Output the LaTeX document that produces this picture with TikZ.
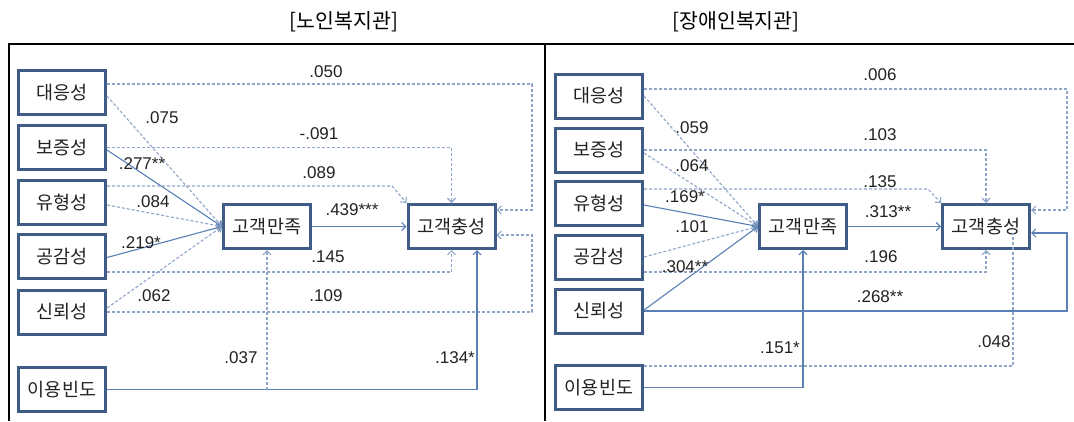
\documentclass[tikz,border=0pt]{standalone}
\usepackage{fontspec}
\setmainfont{Liberation Sans}
\newfontfamily\kr{Noto Sans CJK KR}
\usetikzlibrary{arrows.meta,calc}
\definecolor{boxc}{HTML}{3E5C86}
\definecolor{solidc}{HTML}{5A80B5}
\definecolor{dashc}{HTML}{8FA6C9}
\definecolor{txt}{HTML}{222222}
\begin{document}
\begin{tikzpicture}[x=1pt,y=-1pt,
 var/.style={draw=boxc, line width=3pt, fill=white, minimum width=87pt, minimum height=44pt, inner sep=0pt, font=\kr\fontsize{18.5}{18.5}\selectfont, text=txt},
 sol/.style={draw=solidc, line width=1.1pt, -{Straight Barb[length=4pt,width=8pt]}},
 das/.style={draw=dashc, line width=1.1pt, dash pattern=on 3pt off 2pt, -{Straight Barb[length=4pt,width=8pt]}},
 lbl/.style={font=\fontsize{17}{17}\selectfont, text=txt, inner sep=0pt},
 ttl/.style={font=\kr\fontsize{20.5}{20.5}\selectfont, text=black},
 frame/.style={draw=black, line width=1.3pt}
]
\useasboundingbox (0,0) rectangle (1074,421);
\fill[white] (0,0) rectangle (1074,421);

% titles and frame
\node[ttl] (t1) at (344,22) {[노인복지관]};
\node[ttl] (t2) at (736,22) {[장애인복지관]};
\draw[frame] (9,421) -- (9,44) -- (1074,44);
\draw[frame] (545,44) -- (545,421);

% ---------- left panel ----------
\node[var] (la) at (62,92.5) {대응성};
\node[var] (lb) at (62,147.5) {보증성};
\node[var] (lc) at (62,202) {유형성};
\node[var] (ld) at (62,256.5) {공감성};
\node[var] (le) at (62,312) {신뢰성};
\node[var] (lf) at (62,389.5) {이용빈도};
\node[var] (lm) at (267,226.5) {고객만족};
\node[var] (ll) at (451.5,226.5) {고객충성};

\draw[das] ([yshift=8.5]la.east) -- (532,84) -- (532,210) -- ([yshift=16.5]ll.east);
\draw[das] ([yshift=-3.5]la.east) -- (lm.west);
\draw[das] (lb.east) -| (ll.north);
\draw[sol] ([yshift=-2.5]lb.east) -- (lm.west);
\draw[das] ([yshift=16]lc.east) -- (392,186) -- (ll.north west);
\draw[das] ([yshift=-3]lc.east) -- (lm.west);
\draw[sol] ([yshift=-1]ld.east) -- (lm.west);
\draw[das] ([yshift=-15.5]ld.east) -| (ll.south);
\draw[das] ([yshift=4]le.east) -- (lm.west);
\draw[das] (le.east) -- (532,312) -- (532,235) -- ([yshift=-8.5]ll.east);
\draw[sol] (lf.east) -| ([xshift=25.5]ll.south);
\coordinate (lj) at (lm.south |- lf.east);
\draw[das] (lj) -- (lm.south);
\draw[sol] (lm) -- (ll);

\node[lbl] (l1) at (326,72) {.050};
\node[lbl] (l2) at (162,118) {.075};
\node[lbl] (l3) at (319,134) {-.091};
\node[lbl] (l4) at (142,164) {.277**};
\node[lbl] (l5) at (319,173) {.089};
\node[lbl] (l6) at (153,202) {.084};
\node[lbl] (l7) at (352,210) {.439***};
\node[lbl] (l8) at (141,243) {.219*};
\node[lbl] (l9) at (328,257) {.145};
\node[lbl] (l10) at (154,296) {.062};
\node[lbl] (l11) at (326,296) {.109};
\node[lbl] (l12) at (241,358) {.037};
\node[lbl] (l13) at (455,358) {.134*};

% ---------- right panel ----------
\node[var] (ra) at (599,96) {대응성};
\node[var] (rb) at (599,150) {보증성};
\node[var] (rc) at (599,203.5) {유형성};
\node[var] (rd) at (599,257) {공감성};
\node[var] (re) at (599,311) {신뢰성};
\node[var] (rf) at (599,387.5) {이용빈도};
\node[var] (rm) at (803,226.5) {고객만족};
\node[var] (rr) at (986,226.5) {고객충성};

\draw[das] ([yshift=7]ra.east) -- (1067,89) -- (1067,210) -- ([yshift=16.5]rr.east);
\draw[das] (ra.east) -- (rm.west);
\draw[das] (rb.east) -| (rr.north);
\draw[das] ([yshift=-3]rb.east) -- (rm.west);
\draw[das] ([yshift=14.5]rc.east) -- (928,189) -- (rr.north west);
\draw[sol] ([yshift=-1.5]rc.east) -- (rm.west);
\draw[das] (rd.east) -- (rm.west);
\draw[das] ([yshift=-15]rd.east) -| (rr.south);
\draw[sol] ([yshift=1]re.east) -- (rm.west);
\draw[sol] (re.east) -- (1067,311) -- (1067,233) -- ([yshift=-6.5]rr.east);
\draw[das,-] ([yshift=21.5]rf.east) -| ([xshift=27,yshift=-6.5]rr.center);
\draw[sol] (rf.east) -| (rm.south);
\draw[sol] (rm) -- (rr);

\node[lbl] (r1) at (880,75) {.006};
\node[lbl] (r2) at (692,128) {.059};
\node[lbl] (r3) at (880,135) {.103};
\node[lbl] (r4) at (692,166) {.064};
\node[lbl] (r5) at (880,182) {.135};
\node[lbl] (r6) at (685,197) {.169*};
\node[lbl] (r7) at (888,212) {.313**};
\node[lbl] (r8) at (692,227) {.101};
\node[lbl] (r9) at (685,267) {.304**};
\node[lbl] (r10) at (881,257) {.196};
\node[lbl] (r11) at (880,297) {.268**};
\node[lbl] (r12) at (780,348) {.151*};
\node[lbl] (r13) at (994,342) {.048};
\end{tikzpicture}
\end{document}
